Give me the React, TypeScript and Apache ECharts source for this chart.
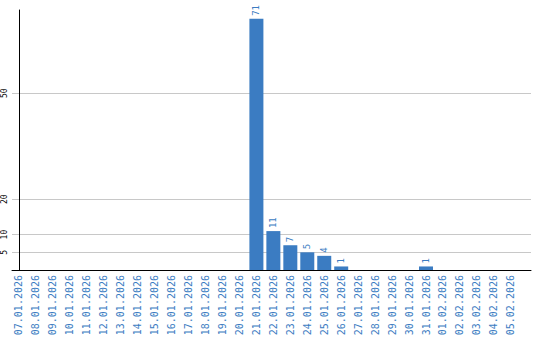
import React, { useEffect, useRef } from "react";
import * as echarts from "echarts";

const dates = [
  "07.01.2026", "08.01.2026", "09.01.2026", "10.01.2026", "11.01.2026",
  "12.01.2026", "13.01.2026", "14.01.2026", "15.01.2026", "16.01.2026",
  "17.01.2026", "18.01.2026", "19.01.2026", "20.01.2026", "21.01.2026",
  "22.01.2026", "23.01.2026", "24.01.2026", "25.01.2026", "26.01.2026",
  "27.01.2026", "28.01.2026", "29.01.2026", "30.01.2026", "31.01.2026",
  "01.02.2026", "02.02.2026", "03.02.2026", "04.02.2026", "05.02.2026",
];
const counts = [
  0, 0, 0, 0, 0, 0, 0, 0, 0, 0, 0, 0, 0, 0, 71,
  11, 7, 5, 4, 1, 0, 0, 0, 0, 1, 0, 0, 0, 0, 0,
];
const yTicks = [5, 10, 20, 50];

const BLUE = "#3b7cc2";

export default function App() {
  const ref = useRef<HTMLDivElement>(null);
  useEffect(() => {
    if (!ref.current) return;
    const chart = echarts.init(ref.current, undefined, { renderer: "svg" });
    const idx = dates.map((_, i) => i);
    chart.setOption({
      animation: false,
      grid: { left: 10, right: 9, top: 10, bottom: 70, containLabel: false },
      xAxis: {
        type: "value",
        min: -0.41,
        max: 30.19,
        splitLine: { show: false },
        axisLine: { show: true, onZero: false, lineStyle: { color: "#000", width: 1 } },
        axisTick: { show: false },
        axisLabel: {
          customValues: idx,
          rotate: 90,
          margin: 5,
          color: BLUE,
          fontFamily: "DejaVu Sans Mono",
          fontSize: 10,
          formatter: (v: number) => dates[Math.round(v)] ?? "",
        },
      },
      yAxis: {
        type: "value",
        min: 0,
        max: 73.5,
        axisLine: { show: true, lineStyle: { color: "#000", width: 1 } },
        axisTick: { show: false, customValues: yTicks },
        axisLabel: {
          customValues: yTicks,
          rotate: 90,
          margin: 4,
          color: "#000",
          fontFamily: "DejaVu Sans Mono",
          fontSize: 8,
        },
        splitLine: { show: true, customValues: yTicks, lineStyle: { color: "#c8c8c8", width: 1 } },
      },
      series: [
        {
          type: "bar",
          barWidth: 14,
          data: counts.map((v, i) => [i, v]),
          itemStyle: { color: BLUE },
          label: {
            show: true,
            position: "top",
            rotate: 90,
            align: "left",
            verticalAlign: "middle",
            distance: 3,
            color: BLUE,
            fontFamily: "DejaVu Sans Mono",
            fontSize: 9,
            formatter: (p: any) => (p.value[1] ? String(p.value[1]) : ""),
          },
        },
      ],
    });
    return () => chart.dispose();
  }, []);
  return <div ref={ref} style={{ width: 540, height: 340, position: "absolute", left: 0, top: 0 }} />;
}
